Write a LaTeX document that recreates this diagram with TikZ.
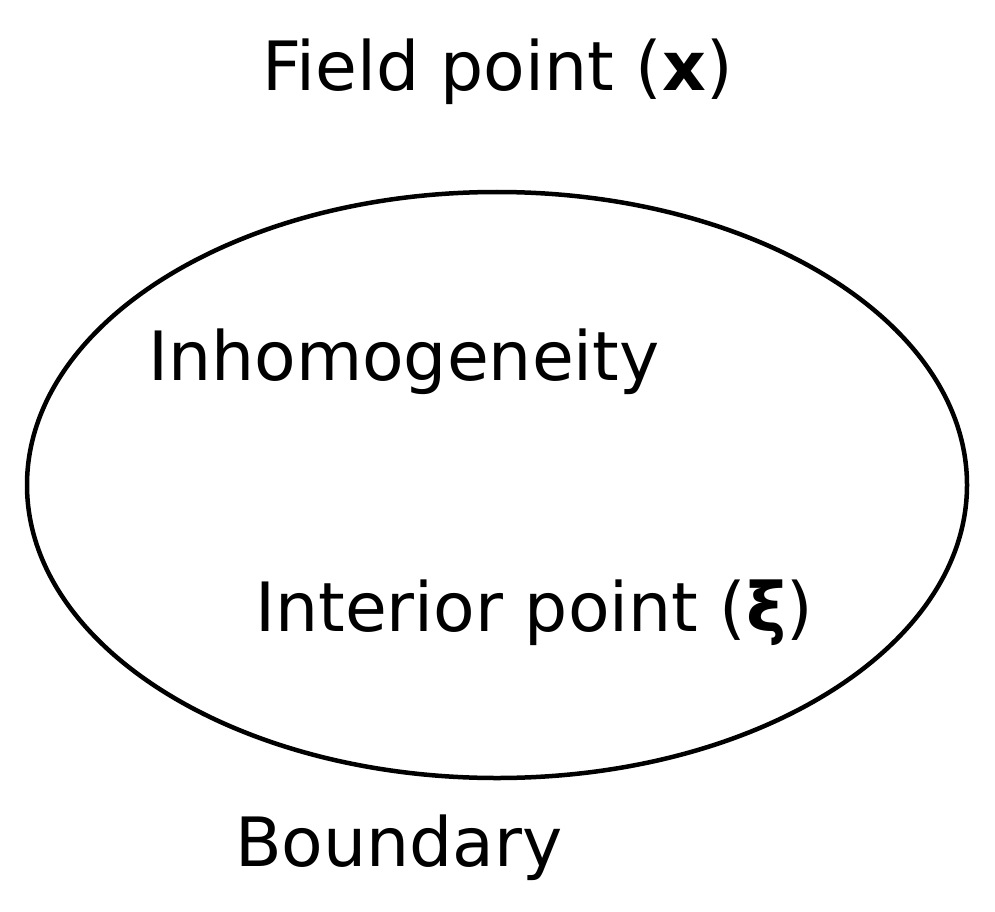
\documentclass[tikz,border=0pt]{standalone}
\usepackage{fontspec}
\setmainfont{DejaVu Sans}
\begin{document}
\begin{tikzpicture}[x=1pt,y=-1pt,
  lbl/.style={anchor=west,inner sep=0pt,font=\fontsize{68}{76}\selectfont}]
\useasboundingbox (0,0) rectangle (995,912);
\draw[line width=4.5pt] (497,485) ellipse [x radius=470, y radius=293];
\node[lbl] (field) at (262,72) {Field point (\textbf{x})};
\node[lbl] (inh) at (148,362) {Inhomogeneity};
\node[lbl] (int) at (255,613) {Interior point (\textbf{ξ})};
\node[lbl] (bnd) at (235,848) {Boundary};
\end{tikzpicture}
\end{document}
